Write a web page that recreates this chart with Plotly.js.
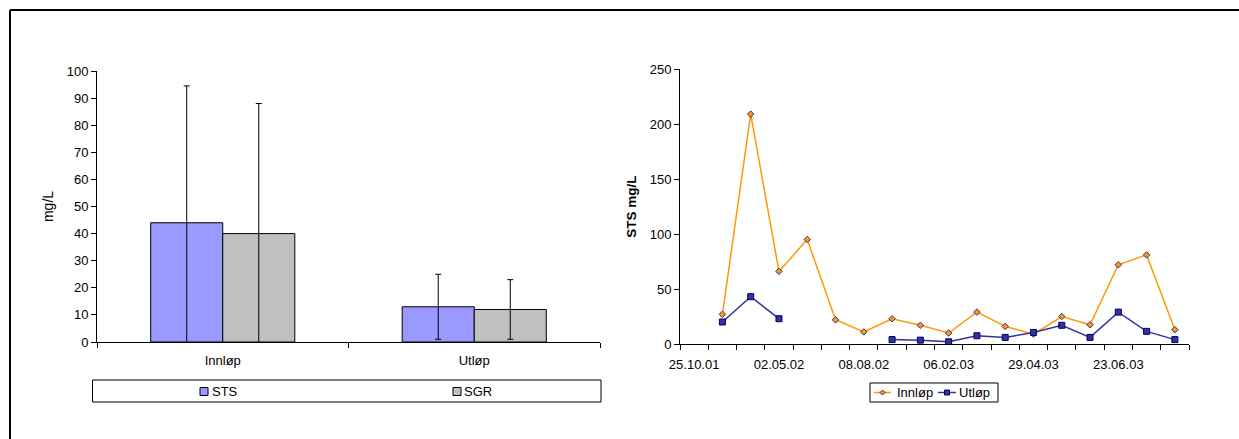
<!DOCTYPE html>
<html>
<head>
<meta charset="utf-8">
<script src="https://cdn.plot.ly/plotly-3.0.1.min.js"></script>
<style>
html,body{margin:0;padding:0;background:#fff;}
#chart{width:1239px;height:439px;}
</style>
</head>
<body>
<div id="chart"></div>
<script>
// ---------- data: left chart (mean ± SD) ----------
const barCategories = ['Innløp', 'Utløp'];
const barSeriesNames = ['STS', 'SGR'];
const stsMeans = [44, 13];
const stsSd = [50.5, 12];
const sgrMeans = [40, 12];
const sgrSd = [48, 11];

// ---------- data: right chart (time series, sample index) ----------
const lineSeriesNames = ['Innløp', 'Utløp'];
const sampleIndex = [0, 1, 2, 3, 4, 5, 6, 7, 8, 9, 10, 11, 12, 13, 14, 15, 16, 17];
const innlopValues = [null, 27, 209, 66, 95, 22, 11, 23, 17, 10, 29, 16, 9, 25, 17.5, 72, 81, 13];
const utlopValues = [null, 20, 43, 23, null, null, null, 4, 3.5, 2, 7.5, 6, 10.5, 17, 6, 29, 11.5, 4];
const dateTickIndex = [0, 3, 6, 9, 12, 15];
const dateTickLabels = ['25.10.01', '02.05.02', '08.08.02', '06.02.03', '29.04.03', '23.06.03'];

// ---------- styling ----------
const W = 1239, H = 439;
const fx = x => x / W;
const fy = y => 1 - y / H;
const FONT = 'Liberation Sans, Arial, Helvetica, sans-serif';
const barColors = ['#9999FF', '#C0C0C0'];
const lineColors = ['#FF9900', '#333399'];
const markerEdge = ['#333399', '#000066'];

const traces = [
  {
    type: 'bar', name: barSeriesNames[0], x: barCategories, y: stsMeans,
    xaxis: 'x', yaxis: 'y', showlegend: false,
    marker: {color: barColors[0], line: {color: '#000', width: 1}},
    error_y: {type: 'data', array: stsSd, visible: true, color: '#000', thickness: 1, width: 3}
  },
  {
    type: 'bar', name: barSeriesNames[1], x: barCategories, y: sgrMeans,
    xaxis: 'x', yaxis: 'y', showlegend: false,
    marker: {color: barColors[1], line: {color: '#000', width: 1}},
    error_y: {type: 'data', array: sgrSd, visible: true, color: '#000', thickness: 1, width: 3}
  },
  {
    type: 'scatter', mode: 'lines+markers', name: lineSeriesNames[0],
    x: sampleIndex, y: innlopValues, xaxis: 'x2', yaxis: 'y2', showlegend: false,
    connectgaps: false,
    line: {color: lineColors[0], width: 1.5},
    marker: {symbol: 'diamond', size: 5, color: lineColors[0], line: {color: markerEdge[0], width: 1}}
  },
  {
    type: 'scatter', mode: 'lines+markers', name: lineSeriesNames[1],
    x: sampleIndex, y: utlopValues, xaxis: 'x2', yaxis: 'y2', showlegend: false,
    connectgaps: false,
    line: {color: lineColors[1], width: 1.5},
    marker: {symbol: 'square', size: 6, color: lineColors[1], line: {color: markerEdge[1], width: 1}}
  }
];

// ---------- custom legends (shapes + text) ----------
const shapes = [
  // outer frame (top and left edges)
  {type: 'line', xref: 'paper', yref: 'paper', x0: fx(10), y0: fy(10), x1: 1, y1: fy(10), line: {color: '#000', width: 2}},
  {type: 'line', xref: 'paper', yref: 'paper', x0: fx(10), y0: fy(10), x1: fx(10), y1: 0, line: {color: '#000', width: 2}},
  // left legend box
  {type: 'rect', xref: 'paper', yref: 'paper', x0: fx(92.5), x1: fx(601), y0: fy(402), y1: fy(380), line: {color: '#000', width: 1}, fillcolor: '#fff'},
  {type: 'rect', xref: 'paper', yref: 'paper', x0: fx(200), x1: fx(208), y0: fy(395.5), y1: fy(387.5), line: {color: '#000', width: 1}, fillcolor: barColors[0]},
  {type: 'rect', xref: 'paper', yref: 'paper', x0: fx(453), x1: fx(461), y0: fy(395.5), y1: fy(387.5), line: {color: '#000', width: 1}, fillcolor: barColors[1]},
  // right legend box
  {type: 'rect', xref: 'paper', yref: 'paper', x0: fx(870), x1: fx(998), y0: fy(402), y1: fy(383), line: {color: '#000', width: 1}, fillcolor: '#fff'},
  {type: 'line', xref: 'paper', yref: 'paper', x0: fx(874), x1: fx(891), y0: fy(392.5), y1: fy(392.5), line: {color: lineColors[0], width: 1.5}},
  {type: 'path', xref: 'paper', yref: 'paper',
   path: `M${fx(882.5)},${fy(390)} L${fx(885)},${fy(392.5)} L${fx(882.5)},${fy(395)} L${fx(880)},${fy(392.5)} Z`,
   line: {color: markerEdge[0], width: 1}, fillcolor: lineColors[0]},
  {type: 'line', xref: 'paper', yref: 'paper', x0: fx(938), x1: fx(956), y0: fy(392.5), y1: fy(392.5), line: {color: lineColors[1], width: 1.5}},
  {type: 'rect', xref: 'paper', yref: 'paper', x0: fx(944.5), x1: fx(949.5), y0: fy(395), y1: fy(390), line: {color: markerEdge[1], width: 1}, fillcolor: lineColors[1]}
];

const legendFont = {family: FONT, size: 13, color: '#000'};
const annotations = [
  {xref: 'paper', yref: 'paper', x: fx(210), y: fy(391.5), xanchor: 'left', yanchor: 'middle', showarrow: false, text: barSeriesNames[0], font: legendFont},
  {xref: 'paper', yref: 'paper', x: fx(462), y: fy(391.5), xanchor: 'left', yanchor: 'middle', showarrow: false, text: barSeriesNames[1], font: legendFont},
  {xref: 'paper', yref: 'paper', x: fx(895), y: fy(392.5), xanchor: 'left', yanchor: 'middle', showarrow: false, text: lineSeriesNames[0], font: legendFont},
  {xref: 'paper', yref: 'paper', x: fx(957), y: fy(392.5), xanchor: 'left', yanchor: 'middle', showarrow: false, text: lineSeriesNames[1], font: legendFont}
];

const axisCommon = {
  showgrid: false, zeroline: false, showline: true, linecolor: '#000', linewidth: 1,
  ticks: 'outside', ticklen: 5, tickcolor: '#000', tickwidth: 1, fixedrange: true,
  tickfont: {family: FONT, size: 13, color: '#000'}
};

const layout = {
  width: W, height: H,
  margin: {l: 0, r: 0, t: 0, b: 0, pad: 0},
  paper_bgcolor: '#fff', plot_bgcolor: 'rgba(0,0,0,0)',
  font: {family: FONT, size: 13, color: '#000'},
  showlegend: false,
  barmode: 'group', bargap: 0.427, bargroupgap: 0,
  xaxis: Object.assign({}, axisCommon, {
    domain: [fx(97), fx(600)], anchor: 'y', type: 'category', range: [-0.5, 1.5],
    tickson: 'boundaries', ticklabelstandoff: 6
  }),
  yaxis: Object.assign({}, axisCommon, {
    domain: [fy(342), fy(71)], anchor: 'x', range: [0, 100], dtick: 10, tick0: 0,
    title: {text: 'mg/L', font: {family: FONT, size: 14, color: '#000'}, standoff: 9}
  }),
  xaxis2: Object.assign({}, axisCommon, {
    domain: [fx(680), fx(1189)], anchor: 'y2', range: [-0.5, 17.5],
    tickmode: 'array', tickvals: dateTickIndex, ticktext: dateTickLabels, ticks: '',
    ticklabelstandoff: 8,
    minor: {ticks: 'outside', ticklen: 5, tickcolor: '#000', tickwidth: 1, tickmode: 'linear', tick0: -0.5, dtick: 1, showgrid: false}
  }),
  yaxis2: Object.assign({}, axisCommon, {
    domain: [fy(344), fy(69)], anchor: 'x2', range: [0, 250], dtick: 50, tick0: 0,
    title: {text: '<b>STS mg/L</b>', font: {family: FONT, size: 13.5, color: '#000'}, standoff: 9}
  }),
  shapes: shapes,
  annotations: annotations
};

Plotly.newPlot('chart', traces, layout, {staticPlot: true, displayModeBar: false});
</script>
</body>
</html>
